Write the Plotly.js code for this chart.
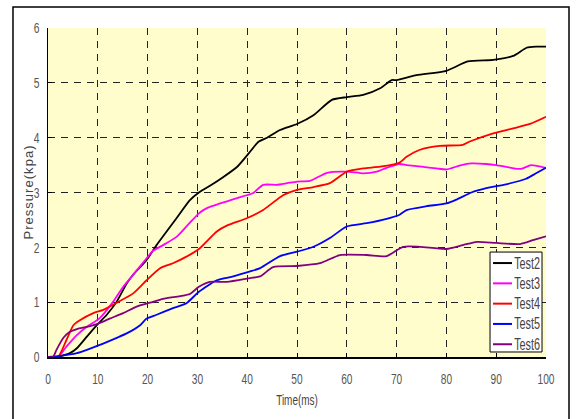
<!DOCTYPE html>
<html>
<head>
<meta charset="utf-8">
<script src="https://cdn.plot.ly/plotly-3.0.1.min.js"></script>
<style>
  html, body { margin: 0; padding: 0; background: #fff; }
  #chart { width: 576px; height: 419px; }
</style>
</head>
<body>
<div id="chart"></div>
<script>
// Pressure history for five tests, time in ms, pressure in kPa
const seriesNames = ["Test2", "Test3", "Test4", "Test5", "Test6"];
const seriesColors = ["#000000", "#FF00FF", "#FF0000", "#0000FF", "#800080"];

const test2Time = [0,1.7,4.4,5.8,7.8,9.8,11.8,13.8,15.8,17.1,19.8,21.8,25.8,28.5,30.3,33,35,38,40.9,42.2,44,46.6,50,53.3,57,60,63.3,66.7,69,70,74,80,84.3,89.4,93.4,96.1,98,100];
const test2Pressure = [0,0,0.07,0.16,0.37,0.58,0.77,1.01,1.34,1.5,1.77,2.04,2.53,2.86,3.0,3.15,3.27,3.47,3.78,3.92,4.0,4.14,4.25,4.41,4.69,4.74,4.78,4.9,5.05,5.05,5.14,5.22,5.39,5.42,5.49,5.64,5.66,5.66];

const test3Time = [0,2,3.7,5.8,7.8,10.4,13.1,15.1,17.1,19.8,21,23.1,25.8,28,30.3,32,34.5,37,39.9,41.2,43.2,45.9,48,50,52.6,56,60,63.3,66,68,70.5,72,75,78,80,83,85,88,90,93,95,97,100];
const test3Pressure = [0,0,0.19,0.4,0.55,0.71,1.01,1.28,1.5,1.8,1.93,2.04,2.19,2.4,2.62,2.72,2.8,2.87,2.95,2.99,3.14,3.14,3.17,3.2,3.21,3.36,3.38,3.35,3.38,3.45,3.52,3.5,3.47,3.44,3.42,3.5,3.53,3.52,3.5,3.45,3.43,3.5,3.45];

const test4Time = [0,2,3.7,5.1,6.4,9.1,11.1,13.8,17.1,19.8,22.5,25.1,27.8,30.3,33.9,36,39.9,43.2,47.2,50,53.3,56.6,60,63.3,66.7,70.5,72,74.7,78.7,83.3,84.7,89.4,93.4,96.8,100];
const test4Pressure = [0,0,0.31,0.58,0.67,0.8,0.86,0.99,1.16,1.4,1.62,1.71,1.83,1.97,2.29,2.4,2.53,2.68,2.95,3.05,3.1,3.17,3.38,3.44,3.47,3.54,3.65,3.78,3.85,3.87,3.93,4.08,4.17,4.25,4.38];

const test5Time = [0,2.4,5.8,7.8,10.4,13.8,15.8,18.5,19.8,21.8,25.1,27.8,30.3,33.9,37.2,40.6,42.6,46.6,50,53.3,56.6,60,64,68,70.5,72,76,80,82,85,88,92,96,98,100];
const test5Pressure = [0,0.02,0.07,0.13,0.22,0.35,0.43,0.58,0.7,0.77,0.89,0.98,1.19,1.4,1.47,1.56,1.62,1.84,1.92,2.01,2.17,2.38,2.44,2.52,2.59,2.68,2.75,2.8,2.87,3.0,3.08,3.15,3.25,3.35,3.45];

const test6Time = [0,1,1.7,3.1,4.4,5.8,7.8,9.8,12.4,15.1,17.8,20.5,23.1,26.5,28.5,30.3,32.5,35.9,40.6,42.6,45.2,50,54.6,58.6,64,68,71.3,74.7,80,83.3,86.1,90,94.8,97.4,100];
const test6Pressure = [0,0,0.13,0.35,0.46,0.51,0.55,0.6,0.7,0.8,0.92,0.99,1.06,1.11,1.15,1.28,1.37,1.37,1.44,1.47,1.64,1.66,1.71,1.86,1.86,1.84,2.01,2.01,1.97,2.04,2.1,2.08,2.06,2.13,2.2];

const timeTicks = [0,10,20,30,40,50,60,70,80,90,100];
const pressureTicks = [0,1,2,3,4,5,6];

const allTimes = [test2Time, test3Time, test4Time, test5Time, test6Time];
const allPressures = [test2Pressure, test3Pressure, test4Pressure, test5Pressure, test6Pressure];

const baseFont = '"Liberation Sans", Arial, sans-serif';

const traces = seriesNames.map((name, i) => ({
  type: 'scatter',
  mode: 'lines',
  name: name,
  x: allTimes[i],
  y: allPressures[i],
  line: { color: seriesColors[i], width: 1.8, shape: 'spline', smoothing: 0.6 }
}));

// outer figure frame
const shapes = [{
  type: 'rect', xref: 'paper', yref: 'paper', layer: 'below',
  x0: -0.0703, x1: 1.0462, y0: -0.215, y1: 1.0638,
  line: { color: '#000', width: 1.5 }, fillcolor: 'rgba(0,0,0,0)'
}];
const annotations = [];

// legend box in the lower right corner of the plot
const legX0 = 0.8876, legX1 = 0.992, legY0 = 0.0152, legY1 = 0.319;
shapes.push({
  type: 'rect', xref: 'paper', yref: 'paper', layer: 'above',
  x0: legX0, x1: legX1, y0: legY0, y1: legY1,
  line: { color: '#000', width: 1 }, fillcolor: '#ffffff'
});
seriesNames.forEach((name, i) => {
  const yc = legY1 - (11 + 20.3 * i) / 329;
  shapes.push({
    type: 'line', xref: 'paper', yref: 'paper', layer: 'above',
    x0: 0.8936, x1: 0.9317, y0: yc, y1: yc,
    line: { color: seriesColors[i], width: 2 }
  });
  annotations.push({
    xref: 'paper', yref: 'paper', x: 0.9628, y: yc,
    xanchor: 'center', yanchor: 'middle', showarrow: false,
    text: name,
    font: { family: baseFont, size: 16, color: '#444' }
  });
});

const layout = {
  width: 576,
  height: 419,
  margin: { l: 48, r: 30, t: 28, b: 62 },
  paper_bgcolor: '#ffffff',
  plot_bgcolor: '#FFFDCC',
  showlegend: false,
  xaxis: {
    range: [0, 100],
    tickvals: timeTicks,
    ticktext: timeTicks.map(String),
    showline: true, linecolor: '#000', linewidth: 1.5,
    showgrid: true, gridcolor: '#222', griddash: '7px,6px', gridwidth: 1,
    zeroline: false,
    ticks: 'inside', ticklen: 4, tickcolor: '#000', tickwidth: 1,
    ticklabelstandoff: 7,
    tickfont: { family: baseFont, size: 15, color: '#555' },
    title: { text: 'Time(ms)', font: { family: baseFont, size: 14, color: '#444' }, standoff: 9 }
  },
  yaxis: {
    range: [0, 6],
    tickvals: pressureTicks,
    ticktext: pressureTicks.map(String),
    showline: true, linecolor: '#000', linewidth: 1.5,
    showgrid: true, gridcolor: '#222', griddash: '7px,6px', gridwidth: 1,
    zeroline: false,
    ticks: 'inside', ticklen: 4, tickcolor: '#000', tickwidth: 1,
    ticklabelstandoff: 4,
    tickfont: { family: baseFont, size: 15, color: '#555' },
    title: { text: 'Pressure(kpa)', font: { family: baseFont, size: 13, color: '#444' }, standoff: 0 }
  },
  shapes: shapes,
  annotations: annotations
};

// condense the labels horizontally, as a narrow typeface would;
// the y title is instead spread out letter by letter over a fixed length
function condenseText(gd) {
  gd.querySelectorAll('svg text').forEach(t => {
    const len = t.getComputedTextLength();
    if (!(len > 0)) return;
    if (t.classList.contains('ytitle')) {
      t.setAttribute('textLength', '94');
      t.setAttribute('lengthAdjust', 'spacing');
      // sit the title a little closer to the tick labels
      t.setAttribute('transform', 'translate(6,0) ' + (t.getAttribute('transform') || ''));
      return;
    }
    const factor = t.classList.contains('xtitle') ? 0.71 : 0.68;
    t.setAttribute('textLength', (len * factor).toFixed(1));
    t.setAttribute('lengthAdjust', 'spacingAndGlyphs');
  });
}

Plotly.newPlot('chart', traces, layout, { displayModeBar: false, staticPlot: true })
  .then(gd => condenseText(gd));
</script>
</body>
</html>
